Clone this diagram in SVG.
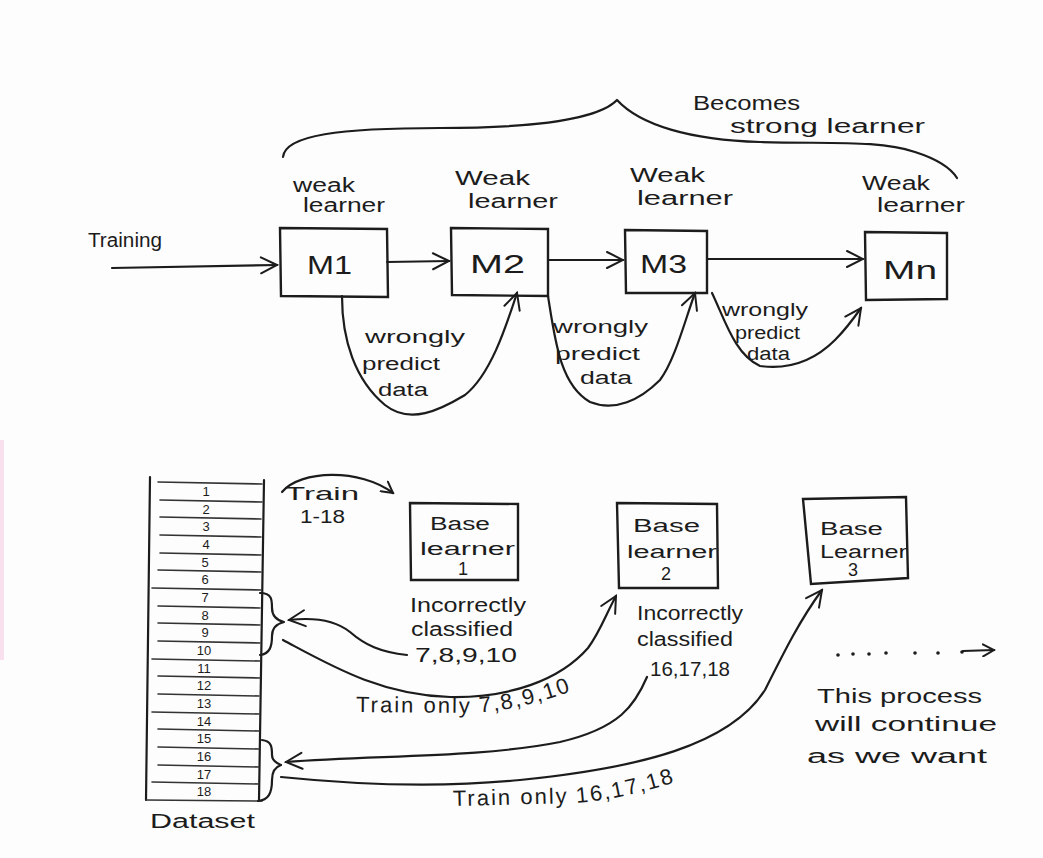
<svg xmlns="http://www.w3.org/2000/svg" width="1043" height="858" viewBox="0 0 1043 858">
  <style>
    .ink { fill: none; stroke: #1c1c1c; stroke-width: 2.2; stroke-linecap: round; stroke-linejoin: round; }
    .thin { fill: none; stroke: #333; stroke-width: 1.6; stroke-linecap: round; }
    .box { fill: none; stroke: #1c1c1c; stroke-width: 2.4; }
    text { font-family: "Liberation Sans", "DejaVu Sans", sans-serif; fill: #1c1c1c; }
    .lbl { font-size: 20px; }
    .sm { font-size: 18px; }
    .big { font-size: 25px; }
    .num { font-size: 13px; text-anchor: middle; }
    .cap { font-size: 22px; letter-spacing: 2px; }
  </style>
  <defs>
    <marker id="open" viewBox="0 0 14 14" refX="12" refY="7" markerWidth="14" markerHeight="14" markerUnits="userSpaceOnUse" orient="auto">
      <path d="M1,1 L12,7 L1,13" fill="none" stroke="#1c1c1c" stroke-width="2" stroke-linecap="round"/>
    </marker>
    <marker id="openL" viewBox="0 0 20 20" refX="18" refY="10" markerWidth="20" markerHeight="20" markerUnits="userSpaceOnUse" orient="auto">
      <path d="M2,2 L18,10 L2,18" fill="none" stroke="#1c1c1c" stroke-width="2" stroke-linecap="round"/>
    </marker>
    <!-- baselines for the curved "Train only" captions -->
    <path id="cap1" d="M356,712 L468,713 Q520,712 590,684"/>
    <path id="cap2" d="M453,806 L575,803 Q625,800 700,774"/>
  </defs>

  <rect width="1043" height="858" fill="#fdfdfd"/>
  <rect x="0" y="440" width="4" height="220" fill="#f5d3e8" opacity="0.7"/>

  <!-- upper chain: weak learners -->
  <g id="training">
    <text x="88" y="247" class="lbl" textLength="74" lengthAdjust="spacingAndGlyphs">Training</text>
  </g>

  <g id="brace-strong">
    <path class="ink" d="M283,157 C285,135 340,128 440,128 C540,128 600,118 617,100 C640,125 690,140 760,142 C830,144 880,140 915,152 C940,160 952,170 957,178"/>
    <text x="693" y="110" class="lbl" textLength="107" lengthAdjust="spacingAndGlyphs">Becomes</text>
    <text x="730" y="133" class="lbl" textLength="195" lengthAdjust="spacingAndGlyphs">strong learner</text>
  </g>

  <g id="m1">
    <path class="box" d="M280,228 L387,229 L388,297 L281,296 Z"/>
    <text x="307" y="274" class="big" textLength="45" lengthAdjust="spacingAndGlyphs">M1</text>
    <text x="293" y="192" class="lbl" textLength="62" lengthAdjust="spacingAndGlyphs">weak</text>
    <text x="303" y="212" class="lbl" textLength="82" lengthAdjust="spacingAndGlyphs">learner</text>
  </g>
  <g id="m2">
    <path class="box" d="M451,228 L548,229 L548,296 L452,295 Z"/>
    <text x="470" y="273" class="big" textLength="55" lengthAdjust="spacingAndGlyphs">M2</text>
    <text x="455" y="185" class="lbl" textLength="75" lengthAdjust="spacingAndGlyphs">Weak</text>
    <text x="468" y="208" class="lbl" textLength="90" lengthAdjust="spacingAndGlyphs">learner</text>
  </g>
  <g id="m3">
    <path class="box" d="M625,230 L707,231 L707,293 L626,293 Z"/>
    <text x="640" y="273" class="big" textLength="47" lengthAdjust="spacingAndGlyphs">M3</text>
    <text x="630" y="182" class="lbl" textLength="75" lengthAdjust="spacingAndGlyphs">Weak</text>
    <text x="637" y="205" class="lbl" textLength="96" lengthAdjust="spacingAndGlyphs">learner</text>
  </g>
  <g id="mn">
    <path class="box" d="M865,232 L947,233 L947,299 L866,300 Z"/>
    <text x="883" y="279" class="big" textLength="54" lengthAdjust="spacingAndGlyphs">Mn</text>
    <text x="862" y="190" class="lbl" textLength="68" lengthAdjust="spacingAndGlyphs">Weak</text>
    <text x="877" y="212" class="lbl" textLength="88" lengthAdjust="spacingAndGlyphs">learner</text>
  </g>

  <g id="wrong-labels">
    <text x="365" y="343" class="sm" textLength="100" lengthAdjust="spacingAndGlyphs">wrongly</text>
    <text x="362" y="370" class="sm" textLength="78" lengthAdjust="spacingAndGlyphs">predict</text>
    <text x="378" y="396" class="sm" textLength="50" lengthAdjust="spacingAndGlyphs">data</text>
    <text x="553" y="333" class="sm" textLength="95" lengthAdjust="spacingAndGlyphs">wrongly</text>
    <text x="555" y="360" class="sm" textLength="85" lengthAdjust="spacingAndGlyphs">predict</text>
    <text x="580" y="384" class="sm" textLength="52" lengthAdjust="spacingAndGlyphs">data</text>
    <text x="722" y="316" class="sm" textLength="86" lengthAdjust="spacingAndGlyphs">wrongly</text>
    <text x="735" y="339" class="sm" textLength="65" lengthAdjust="spacingAndGlyphs">predict</text>
    <text x="747" y="360" class="sm" textLength="43" lengthAdjust="spacingAndGlyphs">data</text>
  </g>

  <!-- lower part: dataset and base learners -->
  <g id="dataset">
    <path class="ink" d="M150,477 L146,800"/>
    <path class="ink" d="M264,480 L259,800"/>
    <g class="thin">
      <path d="M158,482 L262,484"/>
      <path d="M160,500 L262,502"/>
      <path d="M160,517 L261,519"/>
      <path d="M160,535 L261,537"/>
      <path d="M160,553 L261,555"/>
      <path d="M158,570 L261,572"/>
      <path d="M152,588 L261,590"/>
      <path d="M158,606 L260,608"/>
      <path d="M158,623 L260,625"/>
      <path d="M158,641 L260,643"/>
      <path d="M152,659 L260,661"/>
      <path d="M158,676 L260,678"/>
      <path d="M158,694 L259,696"/>
      <path d="M152,712 L259,714"/>
      <path d="M158,729 L259,731"/>
      <path d="M158,747 L259,749"/>
      <path d="M158,765 L259,767"/>
      <path d="M152,782 L259,784"/>
      <path d="M146,800 L262,801"/>
    </g>
    <text x="206" y="496" class="num">1</text>
    <text x="206" y="514" class="num">2</text>
    <text x="206" y="531" class="num">3</text>
    <text x="206" y="549" class="num">4</text>
    <text x="205" y="567" class="num">5</text>
    <text x="205" y="584" class="num">6</text>
    <text x="205" y="602" class="num">7</text>
    <text x="205" y="620" class="num">8</text>
    <text x="205" y="637" class="num">9</text>
    <text x="204" y="655" class="num">10</text>
    <text x="204" y="673" class="num">11</text>
    <text x="204" y="690" class="num">12</text>
    <text x="204" y="708" class="num">13</text>
    <text x="204" y="726" class="num">14</text>
    <text x="204" y="743" class="num">15</text>
    <text x="204" y="761" class="num">16</text>
    <text x="204" y="779" class="num">17</text>
    <text x="204" y="796" class="num">18</text>
    <text x="150" y="828" class="lbl" textLength="105" lengthAdjust="spacingAndGlyphs">Dataset</text>
    <path class="ink" d="M260,593 C272,593 272,600 272,608 C272,616 276,620 284,622 C276,624 272,628 272,636 C272,646 270,654 260,655"/>
    <path class="ink" d="M262,740 C272,741 272,748 272,755 C272,760 276,763 281,765 C275,767 272,772 272,780 C272,794 268,800 258,801"/>
  </g>

  <g id="base1">
    <path class="box" d="M410,503 L518,504 L518,580 L411,580 Z"/>
    <text x="430" y="530" class="sm" textLength="60" lengthAdjust="spacingAndGlyphs">Base</text>
    <text x="420" y="555" class="sm" textLength="95" lengthAdjust="spacingAndGlyphs">learner</text>
    <text x="458" y="575" class="sm">1</text>
    <text x="410" y="612" class="lbl" textLength="116" lengthAdjust="spacingAndGlyphs">Incorrectly</text>
    <text x="411" y="636" class="lbl" textLength="102" lengthAdjust="spacingAndGlyphs">classified</text>
    <text x="415" y="662" class="lbl" textLength="102" lengthAdjust="spacingAndGlyphs">7,8,9,10</text>
  </g>
  <g id="base2">
    <path class="box" d="M617,503 L717,504 L718,588 L619,588 Z"/>
    <text x="633" y="532" class="sm" textLength="67" lengthAdjust="spacingAndGlyphs">Base</text>
    <text x="627" y="558" class="sm" textLength="90" lengthAdjust="spacingAndGlyphs">learner</text>
    <text x="661" y="580" class="sm">2</text>
    <text x="637" y="620" class="lbl" textLength="106" lengthAdjust="spacingAndGlyphs">Incorrectly</text>
    <text x="637" y="646" class="lbl" textLength="96" lengthAdjust="spacingAndGlyphs">classified</text>
    <text x="650" y="676" class="lbl" textLength="80" lengthAdjust="spacingAndGlyphs">16,17,18</text>
  </g>
  <g id="base3">
    <path class="box" d="M803,499 L906,497 L908,578 L811,584 Z"/>
    <text x="820" y="535" class="sm" textLength="63" lengthAdjust="spacingAndGlyphs">Base</text>
    <text x="820" y="558" class="sm" textLength="87" lengthAdjust="spacingAndGlyphs">Learner</text>
    <text x="848" y="576" class="sm">3</text>
  </g>

  <g id="note">
    <text x="817" y="703" class="lbl" textLength="165" lengthAdjust="spacingAndGlyphs">This process</text>
    <text x="815" y="731" class="lbl" textLength="182" lengthAdjust="spacingAndGlyphs">will continue</text>
    <text x="807" y="763" class="lbl" textLength="180" lengthAdjust="spacingAndGlyphs">as we want</text>
    <text x="285" y="500" class="sm" textLength="74" lengthAdjust="spacingAndGlyphs">Train</text>
    <text x="300" y="523" class="sm" textLength="45" lengthAdjust="spacingAndGlyphs">1-18</text>
    <text class="cap"><textPath href="#cap1">Train only 7,8,9,10</textPath></text>
    <text class="cap"><textPath href="#cap2">Train only 16,17,18</textPath></text>
  </g>

  <g id="connectors">
    <!-- upper chain -->
    <path class="ink" d="M112,268 L277,265" marker-end="url(#openL)"/>
    <path class="ink" d="M387,262 L449,261" marker-end="url(#openL)"/>
    <path class="ink" d="M548,260 L623,260" marker-end="url(#openL)"/>
    <path class="ink" d="M707,259 L863,259" marker-end="url(#openL)"/>
    <path class="ink" d="M342,296 C342,340 355,380 385,405 C410,425 440,410 465,395 C490,375 505,330 517,293" marker-end="url(#openL)"/>
    <path class="ink" d="M548,296 C555,340 560,385 590,402 C615,412 640,400 660,380 C675,360 685,320 695,293" marker-end="url(#openL)"/>
    <path class="ink" d="M712,293 C725,320 735,355 760,366 C790,370 815,360 835,340 C847,328 854,318 861,308" marker-end="url(#openL)"/>
    <!-- lower part -->
    <path class="ink" d="M282,492 C300,470 360,468 393,493" marker-end="url(#open)"/>
    <path class="ink" d="M407,655 C380,652 365,645 350,632 C335,620 315,617 289,620" marker-end="url(#openL)"/>
    <path class="ink" d="M283,640 C330,665 380,695 450,697 C510,698 560,680 588,648 C600,632 607,612 616,596" marker-end="url(#openL)"/>
    <path class="ink" d="M647,677 C635,705 620,728 560,742 C480,758 380,755 286,762" marker-end="url(#openL)"/>
    <path class="ink" d="M281,777 C330,782 420,790 520,780 C640,768 730,745 765,690 C785,650 800,620 822,590" marker-end="url(#openL)"/>
    <!-- continuation -->
    <g fill="#1c1c1c">
      <circle cx="838" cy="655" r="1.8"/>
      <circle cx="853" cy="654" r="1.8"/>
      <circle cx="869" cy="654" r="1.8"/>
      <circle cx="886" cy="653" r="1.8"/>
      <circle cx="915" cy="653" r="1.8"/>
      <circle cx="938" cy="653" r="1.8"/>
      <circle cx="962" cy="652" r="1.8"/>
    </g>
    <path class="ink" d="M963,651 L994,650" marker-end="url(#open)"/>
  </g>
</svg>
